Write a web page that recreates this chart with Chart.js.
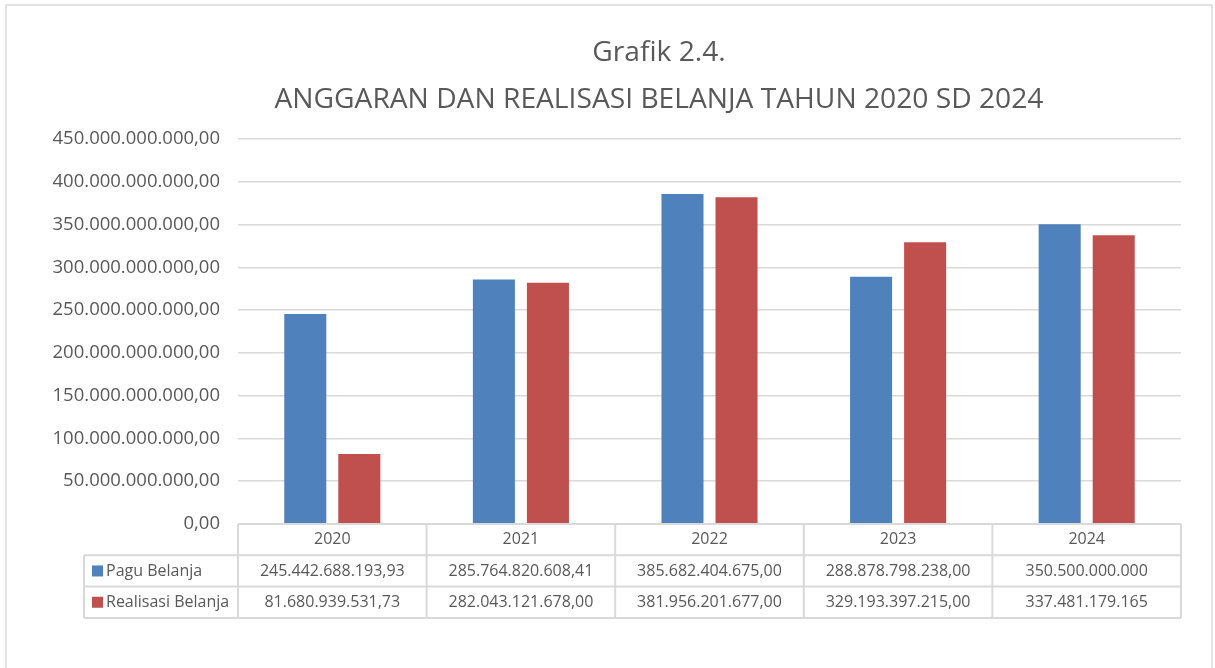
<!DOCTYPE html>
<html>
<head>
<meta charset="utf-8">
<script src="https://cdn.jsdelivr.net/npm/chart.js@4.4.1/dist/chart.umd.min.js"></script>
<style>
  html, body { margin: 0; padding: 0; background: #ffffff; }
  #wrap { width: 1215px; height: 668px; position: relative; }
</style>
</head>
<body>
<div id="wrap"><canvas id="c" width="1215" height="668"></canvas></div>
<script>
const titleLines = ['Grafik 2.4.', 'ANGGARAN DAN REALISASI BELANJA TAHUN 2020 SD 2024'];
const years = ['2020', '2021', '2022', '2023', '2024'];
const seriesNames = ['Pagu Belanja', 'Realisasi Belanja'];
const paguBelanja = [245442688193.93, 285764820608.41, 385682404675.00, 288878798238.00, 350500000000];
const realisasiBelanja = [81680939531.73, 282043121678.00, 381956201677.00, 329193397215.00, 337481179165];
const paguLabels = ['245.442.688.193,93', '285.764.820.608,41', '385.682.404.675,00', '288.878.798.238,00', '350.500.000.000'];
const realisasiLabels = ['81.680.939.531,73', '282.043.121.678,00', '381.956.201.677,00', '329.193.397.215,00', '337.481.179.165'];
const yMax = 450000000000;
const yStep = 50000000000;

const BLUE = '#4f81bd';
const RED = '#c0504d';
const GRID = '#d9d9d9';
const TEXT = '#595959';
const FONT = '"Open Sans", "Noto Sans", sans-serif';

function fmtID(v) {
  const parts = Math.round(v).toString();
  const withDots = parts.replace(/\B(?=(\d{3})+(?!\d))/g, '.');
  return withDots + ',00';
}

const framePlugin = {
  id: 'frame',
  beforeDraw(chart) {
    const ctx = chart.ctx;
    ctx.save();
    ctx.fillStyle = '#ffffff';
    ctx.fillRect(0, 0, chart.width, chart.height);
    ctx.strokeStyle = GRID;
    ctx.lineWidth = 1.5;
    ctx.strokeRect(6, 5, 1206, 700);
    ctx.fillStyle = TEXT;
    ctx.font = '28.2px ' + FONT;
    ctx.textAlign = 'center';
    ctx.textBaseline = 'middle';
    ctx.fillText(titleLines[0], 659, 53);
    ctx.fillText(titleLines[1], 659, 99.5);
    ctx.restore();
  }
};

const tablePlugin = {
  id: 'dataTable',
  afterDraw(chart) {
    const ctx = chart.ctx;
    const xs = chart.scales.x;
    const area = chart.chartArea;
    const rowH = 31.3;
    const legendLeft = 84;
    const top = area.bottom;
    const catW = (area.right - area.left) / years.length;
    ctx.save();
    ctx.strokeStyle = GRID;
    ctx.lineWidth = 2;
    ctx.beginPath();
    ctx.moveTo(area.left, top); ctx.lineTo(area.right, top);
    for (let r = 1; r <= 3; r++) {
      ctx.moveTo(legendLeft, top + rowH * r); ctx.lineTo(area.right, top + rowH * r);
    }
    ctx.moveTo(legendLeft, top + rowH); ctx.lineTo(legendLeft, top + rowH * 3);
    for (let i = 0; i <= years.length; i++) {
      const x = area.left + catW * i;
      ctx.moveTo(x, top); ctx.lineTo(x, top + rowH * 3);
    }
    ctx.stroke();

    ctx.fillStyle = TEXT;
    ctx.font = '16px ' + FONT;
    ctx.textAlign = 'center';
    ctx.textBaseline = 'middle';
    years.forEach((y, i) => {
      const cx = xs.getPixelForValue(i);
      ctx.fillText(y, cx, top + rowH * 0.5);
      ctx.fillText(paguLabels[i], cx, top + rowH * 1.5);
      ctx.fillText(realisasiLabels[i], cx, top + rowH * 2.5);
    });
    const colors = [BLUE, RED];
    ctx.textAlign = 'left';
    seriesNames.forEach((name, k) => {
      const cy = top + rowH * (1.5 + k);
      ctx.fillStyle = colors[k];
      ctx.fillRect(92, cy - 5.5, 11, 11);
      ctx.fillStyle = TEXT;
      ctx.fillText(name, 106, cy);
    });
    ctx.restore();
  }
};

new Chart(document.getElementById('c'), {
  type: 'bar',
  data: {
    labels: years,
    datasets: [
      { label: seriesNames[0], data: paguBelanja, backgroundColor: BLUE, borderWidth: 0,
        barPercentage: 0.778, categoryPercentage: 0.573 },
      { label: seriesNames[1], data: realisasiBelanja, backgroundColor: RED, borderWidth: 0,
        barPercentage: 0.778, categoryPercentage: 0.573 }
    ]
  },
  options: {
    responsive: false,
    animation: false,
    devicePixelRatio: 1,
    layout: { padding: { top: 139, left: 0, right: 34, bottom: 144 } },
    plugins: {
      legend: { display: false },
      tooltip: { enabled: false },
      title: { display: false }
    },
    scales: {
      x: {
        grid: { display: false },
        border: { display: false },
        ticks: { display: false },
        afterFit(s) { s.height = 0; }
      },
      y: {
        min: 0,
        max: yMax,
        ticks: {
          stepSize: yStep,
          color: TEXT,
          padding: 18,
          font: { family: FONT, size: 18.5 },
          callback: (v) => fmtID(v)
        },
        grid: { color: GRID, lineWidth: 1.5, drawTicks: false },
        border: { display: false },
        afterFit(s) { s.width = 238; }
      }
    }
  },
  plugins: [framePlugin, tablePlugin]
});
</script>
</body>
</html>
